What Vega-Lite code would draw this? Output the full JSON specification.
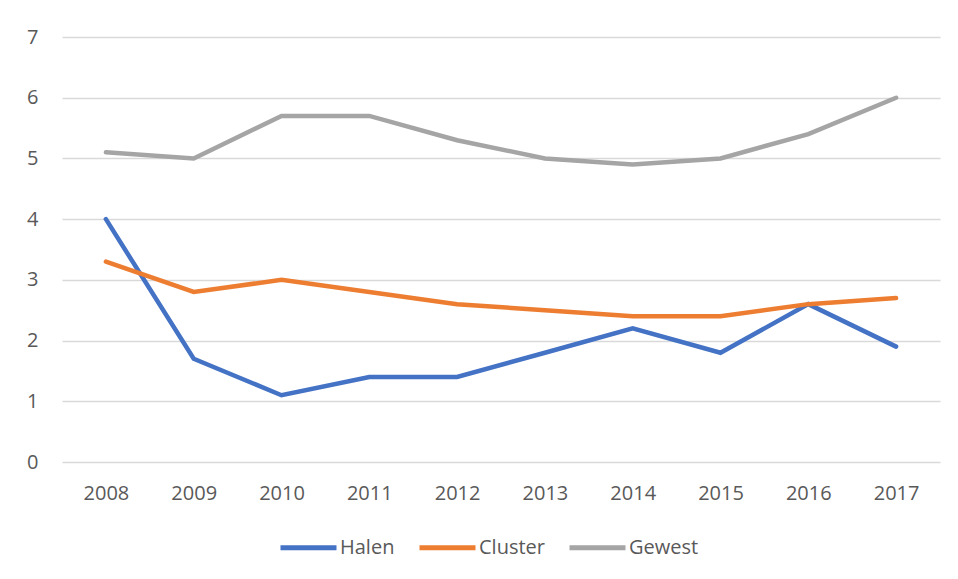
{
  "$schema": "https://vega.github.io/schema/vega-lite/v6.json",
  "width": 878,
  "height": 425,
  "autosize": {"type": "none"},
  "padding": {"left": 62, "top": 37, "right": 18, "bottom": 117},
  "background": "white",
  "config": {
    "font": "Open Sans",
    "view": {"stroke": null},
    "axis": {"labelFont": "Open Sans", "labelColor": "#595959", "labelFontSize": 20}
  },
  "data": {
    "values": [
      {"jaar": "2008", "reeks": "Halen", "waarde": 4.0},
      {"jaar": "2009", "reeks": "Halen", "waarde": 1.7},
      {"jaar": "2010", "reeks": "Halen", "waarde": 1.1},
      {"jaar": "2011", "reeks": "Halen", "waarde": 1.4},
      {"jaar": "2012", "reeks": "Halen", "waarde": 1.4},
      {"jaar": "2013", "reeks": "Halen", "waarde": 1.8},
      {"jaar": "2014", "reeks": "Halen", "waarde": 2.2},
      {"jaar": "2015", "reeks": "Halen", "waarde": 1.8},
      {"jaar": "2016", "reeks": "Halen", "waarde": 2.6},
      {"jaar": "2017", "reeks": "Halen", "waarde": 1.9},
      {"jaar": "2008", "reeks": "Cluster", "waarde": 3.3},
      {"jaar": "2009", "reeks": "Cluster", "waarde": 2.8},
      {"jaar": "2010", "reeks": "Cluster", "waarde": 3.0},
      {"jaar": "2011", "reeks": "Cluster", "waarde": 2.8},
      {"jaar": "2012", "reeks": "Cluster", "waarde": 2.6},
      {"jaar": "2013", "reeks": "Cluster", "waarde": 2.5},
      {"jaar": "2014", "reeks": "Cluster", "waarde": 2.4},
      {"jaar": "2015", "reeks": "Cluster", "waarde": 2.4},
      {"jaar": "2016", "reeks": "Cluster", "waarde": 2.6},
      {"jaar": "2017", "reeks": "Cluster", "waarde": 2.7},
      {"jaar": "2008", "reeks": "Gewest", "waarde": 5.1},
      {"jaar": "2009", "reeks": "Gewest", "waarde": 5.0},
      {"jaar": "2010", "reeks": "Gewest", "waarde": 5.7},
      {"jaar": "2011", "reeks": "Gewest", "waarde": 5.7},
      {"jaar": "2012", "reeks": "Gewest", "waarde": 5.3},
      {"jaar": "2013", "reeks": "Gewest", "waarde": 5.0},
      {"jaar": "2014", "reeks": "Gewest", "waarde": 4.9},
      {"jaar": "2015", "reeks": "Gewest", "waarde": 5.0},
      {"jaar": "2016", "reeks": "Gewest", "waarde": 5.4},
      {"jaar": "2017", "reeks": "Gewest", "waarde": 6.0}
    ]
  },
  "mark": {"type": "line", "strokeWidth": 4.5, "strokeCap": "round", "strokeJoin": "miter"},
  "encoding": {
    "x": {
      "field": "jaar",
      "type": "ordinal",
      "scale": {"type": "point", "padding": 0.5},
      "axis": {"title": null, "labelAngle": 0, "domain": false, "ticks": false, "grid": false, "labelPadding": 21}
    },
    "y": {
      "field": "waarde",
      "type": "quantitative",
      "scale": {"domain": [0, 7], "nice": false},
      "axis": {
        "title": null,
        "values": [0, 1, 2, 3, 4, 5, 6, 7],
        "domain": false,
        "ticks": false,
        "labelPadding": 24,
        "gridColor": "#D9D9D9",
        "gridWidth": 1.5
      }
    },
    "color": {
      "field": "reeks",
      "type": "nominal",
      "sort": ["Halen", "Cluster", "Gewest"],
      "scale": {"domain": ["Halen", "Cluster", "Gewest"], "range": ["#4472C4", "#ED7D31", "#A5A5A5"]},
      "legend": {
        "title": null,
        "orient": "none",
        "legendX": 216,
        "legendY": 480,
        "direction": "horizontal",
        "symbolType": "stroke",
        "symbolSize": 3136,
        "symbolStrokeWidth": 5,
        "labelFont": "Open Sans",
        "labelFontSize": 20,
        "labelColor": "#595959",
        "labelOffset": 1,
        "columnPadding": 14
      }
    }
  }
}
